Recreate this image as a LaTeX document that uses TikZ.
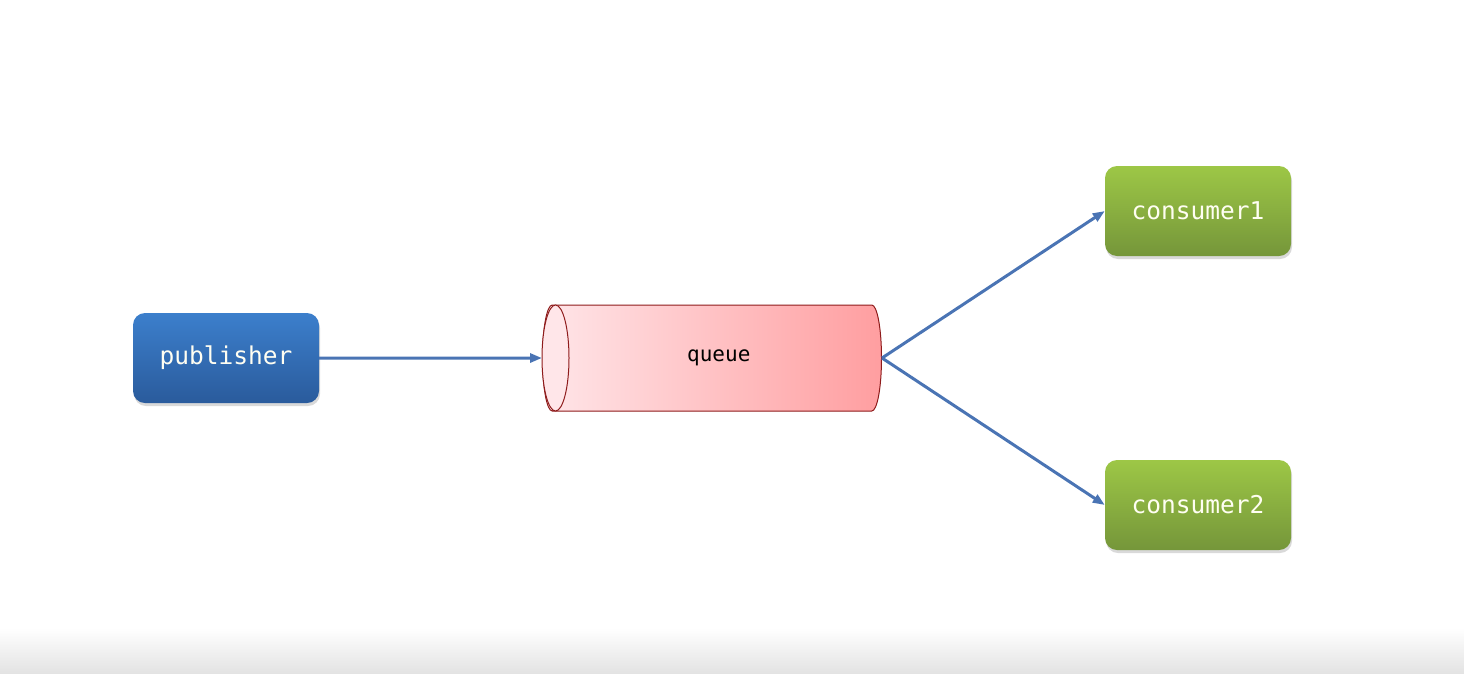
\documentclass[tikz,border=0pt]{standalone}
\usepackage{fontspec}
\setmonofont{DejaVu Sans Mono}
\usetikzlibrary{arrows.meta,shapes.geometric,shadows}
\definecolor{pubtop}{HTML}{3C7FCC}
\definecolor{pubbot}{HTML}{2A5B9C}
\definecolor{constop}{HTML}{9DC746}
\definecolor{consbot}{HTML}{75963A}
\definecolor{qleft}{HTML}{FFE6E9}
\definecolor{qright}{HTML}{FF9EA0}
\definecolor{qline}{HTML}{8E1B1B}
\definecolor{flowc}{HTML}{4A74B4}

\begin{document}
\begin{tikzpicture}[x=1pt,y=-1pt,
  box/.style={rounded corners=12pt,minimum width=186pt,minimum height=90pt,
    font=\ttfamily\fontsize{24.5}{28}\selectfont,text=white!95!yellow,
    drop shadow={opacity=0.3,shadow xshift=1pt,shadow yshift=-3pt}},
  pubbox/.style={box,top color=pubtop,bottom color=pubbot},
  consbox/.style={box,top color=constop,bottom color=consbot},
  flow/.style={draw=flowc,line width=3pt,-{Triangle[length=12pt,width=9pt]}}]
\useasboundingbox (0,0) rectangle (1464,673);
\shade[top color=white,bottom color=black!11] (0,628) rectangle (1464,673);
\node[pubbox] (pub) at (226,358){publisher};
\node[cylinder,shape border rotate=180,aspect=0.85,minimum width=106pt,minimum height=339pt,
  anchor=shape center,draw=qline,line width=1pt,left color=qleft,right color=qright,
  font=\ttfamily\fontsize{21}{24}\selectfont] (queue) at (712,358){queue};
\draw[qline,line width=1pt,fill=qleft] ([xshift=13.5pt]queue.west) ellipse [x radius=13.5,y radius=53];
\node[consbox] (cons1) at (1198,211){consumer1};
\node[consbox] (cons2) at (1198,505){consumer2};
\foreach \from/\to in {pub.east/queue.west,queue.east/cons1.west,queue.east/cons2.west}
	\draw[flow] (\from)--(\to);
\end{tikzpicture}
\end{document}
